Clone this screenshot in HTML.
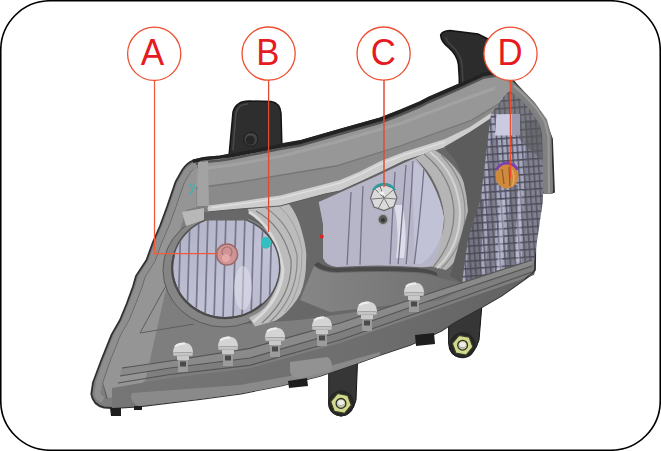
<!DOCTYPE html>
<html><head><meta charset="utf-8">
<style>
html,body{margin:0;padding:0;background:#fff;width:661px;height:451px;overflow:hidden}
svg{display:block}
text{font-family:"Liberation Sans",sans-serif}
</style></head>
<body>
<svg width="661" height="451" viewBox="0 0 661 451">
<defs>
<clipPath id="clipA"><ellipse cx="226" cy="267" rx="53" ry="50"/></clipPath>
<clipPath id="clipC"><path d="M318.7,202 L340,192.5 L360,183.5 L380,174.5 L404,163 L415,158 Q437,183 444,217 Q442,250 421,264 L334,265 Q323,258 323,240 L323,224 Z"/></clipPath>
<clipPath id="clipT"><path d="M491,114 L505,95 L513,88 L524,96 L534,108 L542,125 L543,200 L534,262 L462,283 L468,240 L480.5,200 Z"/></clipPath>
<pattern id="grid" width="5" height="7.5" patternUnits="userSpaceOnUse" patternTransform="rotate(-4)">
<rect width="5" height="7.5" fill="#a6a6be"/>
<rect x="0" y="0" width="1.5" height="7.5" fill="#58586a"/>
<rect x="0" y="0" width="5" height="1.5" fill="#4a4a5a"/>
</pattern>
<linearGradient id="lensA" x1="0" y1="0" x2="1" y2="1">
<stop offset="0" stop-color="#b0b0c6"/><stop offset="0.6" stop-color="#c2c2d6"/><stop offset="1" stop-color="#b8b8cc"/>
</linearGradient>
<linearGradient id="underC" x1="300" y1="0" x2="470" y2="0" gradientUnits="userSpaceOnUse">
<stop offset="0" stop-color="#868686"/><stop offset="1" stop-color="#6e6e6e"/>
</linearGradient>
<linearGradient id="lowband" x1="110" y1="0" x2="535" y2="0" gradientUnits="userSpaceOnUse">
<stop offset="0" stop-color="#767676"/><stop offset="0.6" stop-color="#6e6e6e"/><stop offset="1" stop-color="#626262"/>
</linearGradient>
</defs>
<rect x="0" y="0" width="661" height="451" fill="#fff"/>
<!-- frame -->
<rect x="0.75" y="0.75" width="659.5" height="449.5" rx="49.5" ry="49.5" fill="none" stroke="#000" stroke-width="1.6"/>

<!-- top brackets -->
<path d="M229,156 L233,112 Q236,101 249,101 L271,101.5 Q280,103 281,113 L282,150 Z" fill="#2e2e2e" stroke="#151515" stroke-width="1.5"/>
<path d="M233,150 L236,113 Q238,104 248,104" fill="none" stroke="#4a4a4a" stroke-width="1.5"/>
<circle cx="250.8" cy="139.3" r="7" fill="#444" stroke="#1a1a1a" stroke-width="1"/>
<circle cx="250.3" cy="140.3" r="4.5" fill="#262626"/>
<path d="M459.3,90 L459.3,78 L458.4,64.3 Q457,55 449,48 Q441,42 440.6,35 Q442,31 450,30.5 L478,34 L490,40 L492,70 Z" fill="#2c2c2c" stroke="#121212" stroke-width="1.5"/>
<path d="M463,86 L462,64 Q460,53 452,46 Q446,41 446,37" fill="none" stroke="#454545" stroke-width="1.5"/>
<!-- bottom brackets -->
<path d="M448.6,318 L482,304 L479,340 Q474,357 462,357.5 Q449,357 448.6,343 Z" fill="#363636" stroke="#151515" stroke-width="1"/>
<path d="M328.7,372 L357.5,362 L356,400 Q352,416 341,416 Q329.5,415 328.7,402 Z" fill="#363636" stroke="#151515" stroke-width="1"/>

<!-- body silhouette -->
<path id="silp" d="M104,407.5 Q93,405 91.3,394 L93,382.5 L101,361 L111.6,334.6 L120,320 L126.6,304 L133,286.5 L136,276 L146.5,260 L153,242 L160,226 L167,207 L175.5,182 L182.6,169.5 Q187,163 193,160.6 L204,158 L220,156.3 L230,154.5 L280,144.5 L300,141 L340,129.6 L380,118.3 L401,110 L420,102 L429,97.4 L458.5,84.6 L484,72.8 Q505,68 516,84 L533,102 L546,123 L552,139 L554,192 L536,193 L535,270 L532,274 L501,296 L482,307 L453,323 L441,331 L410,345 L380,355 L358,363 L320,376 L282,385.4 L241,393.5 L200,399 L138,406.5 L112,408 Z" fill="#7e7e7e" stroke="#303030" stroke-width="1.8" stroke-linejoin="round"/>
<!-- top edge thick dark -->
<path d="M193,161.5 L204,159 L220,157.5 L230,156 L280,146 L300,142.5 L340,131 L380,119.8 L401,111.5 L420,103.5 L429,99 L458.5,86.2 L484,74.4 L500,72" fill="none" stroke="#222" stroke-width="4"/>
<!-- left rim light strip -->
<path d="M103,400 Q97,397 97.5,393 L99,382.5 L106.5,361 L117,335 L125.5,320 L132,304 L138.5,287 L141.5,277 L151.5,261 L158,243 L165,227 L172,208 L180.5,183 L187,172 Q191,167 197,165" fill="none" stroke="#8f8f8f" stroke-width="6" stroke-linejoin="round"/>
<path d="M107,399 L103,383 L110.5,361 L121,335 L129.5,320 L136,304 L142.5,287 L145.5,277 L155.5,261 L162,243 L169,227 L176,208 L184.5,183 L191,172 Q195,168 200,166" fill="none" stroke="#626262" stroke-width="1.2" stroke-linejoin="round"/>

<!-- left broad band -->
<path d="M197,166 L197,207 L186,210 L177,240 L168,280 L145.5,380 L128,395 L108,398 L103,383 L110.5,361 L121,335 L129.5,320 L136,304 L142.5,287 L145.5,277 L155.5,261 L162,243 L169,227 L176,208 L184.5,183 L191,172 Z" fill="#959595"/>
<path d="M168,282 L140,333 L194,324" fill="none" stroke="#5e5e5e" stroke-width="1"/>
<!-- upper bezel -->
<path d="M200,161 L231,157.5 L281,148 L301,145 L341,133.5 L381,122 L402,114 L421,106 L430,101.5 L459,89 L485,77 Q500,74 511,84 L515,92 L491,113 L470,127 L445,139 L404,152 L380,161.3 L360,171.5 L340,180 L325,184 L280,195.4 L240,201.5 L207,206 L196,206 L195,180 Q197,168 200,161 Z" fill="#979797"/>
<path d="M196,188 L240,182 L300,172 L336,166 L400,146 L472,120 L505,100 L491,113 L470,127 L445,139 L404,152 L380,161.3 L360,171.5 L340,180 L325,184 L280,195.4 L240,201.5 L207,206 L196,206 Z" fill="#8a8a8a"/>
<path d="M196,188 L240,182 L300,172 L336,166 L400,146 L472,120 L505,100" fill="none" stroke="#767676" stroke-width="1.3"/>
<path d="M196,164 L204,162 L220,160.5 L230,159 L280,149 L300,145.5 L340,134 L380,122.8 L401,114.5 L420,106.5 L429,102 L458.5,89.2 L484,77.4 L500,75" fill="none" stroke="#4e4e4e" stroke-width="2.5" opacity="0.9"/>
<path d="M200,169 L232,165 L282,156 L340,141 L402,123 L462,100 L495,88" fill="none" stroke="#a2a2a2" stroke-width="3"/>
<!-- vertical light band at left -->
<path d="M198,162 L208,161 L209,206 L197,206 Z" fill="#a3a3a3"/>

<path d="M190,184 L193,190 L190,194 M193,183 L195,188" fill="none" stroke="#40b0b0" stroke-width="1.3"/>
<!-- region right of A / left of C (dark) -->
<path d="M207,212 L268,204 L318,193 L359,179 L404,161 L447,148 L470,140 L484,130 L483,180 L470,285 L440,300 L300,320 L230,325 Z" fill="#686868"/>

<!-- projector A outer housing ring -->
<ellipse cx="224" cy="270" rx="61" ry="57" fill="#858585"/>
<ellipse cx="224" cy="270" rx="61" ry="57" fill="none" stroke="#5a5a5a" stroke-width="1"/>
<!-- A chrome crescent -->
<path d="M248,209 L270,206.5 L289,204 Q297,214 301,228.5 Q306,245 306.3,255 L305.8,269.8 Q304,290 296.8,299.7 Q287,314 275.9,320.6 L255,326.6 L249,317.6 Q266,310 270,299.7 Q279,285 278.9,269.8 Q277,245 270,231 Q262,220 249,213 Z" fill="#bcbcbc"/>
<path d="M256,211 Q283,226 291,260 Q293,295 262,323" fill="none" stroke="#7c7c7c" stroke-width="1.2"/>
<path d="M266,208 Q290,224 297,255 Q299,295 270,322" fill="none" stroke="#8a8a8a" stroke-width="1.2"/>
<path d="M279,206 Q297,222 302,250 Q303,290 285,312" fill="none" stroke="#a0a0a0" stroke-width="1"/>
<path d="M249,212 Q276,228 283,270 Q281,300 253,322" fill="none" stroke="#d8d8d8" stroke-width="3"/>
<!-- light piece above A -->
<path d="M182,212 L204,208 L204,220 L186,226 Z" fill="#b8b8b8"/>
<!-- A lens -->
<ellipse cx="226" cy="267" rx="54.5" ry="51.5" fill="#505050"/>
<ellipse cx="226" cy="267" rx="53" ry="50" fill="url(#lensA)"/>
<g clip-path="url(#clipA)" stroke="#77778c" stroke-width="1.7" fill="none">
<path d="M181,215 L178,320"/><path d="M190,215 L187,320"/><path d="M199,215 L196,320"/>
<path d="M208,215 L205,320"/><path d="M217,215 L214,320"/><path d="M226,215 L223,320"/>
<path d="M236,215 L233,320"/><path d="M245,215 L242,320"/><path d="M254,215 L251,320"/>
<path d="M263,215 L260,320"/><path d="M272,215 L269,320"/>
</g>
<ellipse cx="243" cy="288" rx="9" ry="22" fill="#e4e4f0" opacity="0.5"/>
<path d="M174,255 A53,50 0 0 0 262,304" fill="none" stroke="#4a4a4a" stroke-width="2.2"/>
<!-- dark band on top of A lens -->
<path d="M204,212 L248,211 L248,220.5 L204,220.5 Z" fill="#686868"/>

<!-- chrome strip -->
<path d="M209,205.4 L240,201.5 L280,195.4 L325,184 L340,180 L360,171.5 L380,161.3 L404,152 L445,139 L470,127 L491,113 L494,118 L470,132 L447,147 L404,161 L380,172.7 L360,182 L340,191 L325,194 L280,206 L240,209 L209,211.8 Q206,208.6 209,205.4 Z" fill="#cdcdcd"/>
<path d="M212,207.5 L240,204 L280,198.2 L325,187 L340,183 L360,174.5 L380,164.3 L404,155 L445,142" fill="none" stroke="#dedede" stroke-width="1.5"/>
<path d="M209,211.8 L240,209 L280,206 L325,194 L340,191 L360,182 L380,172.7 L404,161 L447,147" fill="none" stroke="#5a5a5a" stroke-width="1"/>

<!-- C chrome ring -->
<path d="M415,158 L433.5,149.3 C455,162 471,185 471,211 C471,235 462,258 446,270 L421,264 C440,248 446,230 444,214 C442,195 432,172 415,158 Z" fill="#b5b5b5"/>
<path d="M424,154 C444,170 453,190 454,212 C454,235 446,252 433,267" fill="none" stroke="#808080" stroke-width="1.2"/>
<path d="M441,155 C458,172 465,192 465,212 C465,236 456,254 441,269" fill="none" stroke="#8a8a8a" stroke-width="1.1"/>
<path d="M430,152 C450,168 459,190 460,212 C460,238 451,255 437,268" fill="none" stroke="#d2d2d2" stroke-width="2.2"/>
<!-- C lens -->
<path d="M318.7,202 L340,192.5 L360,183.5 L380,174.5 L404,163 L415,158 Q437,183 444,217 Q442,250 433,266 Q425,268 417,267 Q380,264 337,267 Q326,266 323,258 L323,224 Z" fill="#b6b6c8"/>
<g clip-path="url(#clipC)">
<path d="M412,160 L440,180 L446,240 L432,266 L415,266 Z" fill="#c8c8dc" opacity="0.7"/>
<path d="M394,205 Q400,230 396,258 L404,258 Q408,230 402,205 Z" fill="#eeeef6" opacity="0.7"/>
<g stroke="#72728a" stroke-width="1.3" fill="none">
<path d="M351,192 Q349,230 347,266"/><path d="M363,186 Q361,230 360,266"/>
<path d="M395,172 Q392,220 390,266"/><path d="M406,165 Q402,220 398,266"/>
<path d="M413,161 Q410,220 406,266"/><path d="M424,168 Q420,220 414,266"/>
</g></g>
<path d="M318,262 Q326,268 337,268 Q380,266 417,268 Q428,269 436,272 L438,276 Q425,272 415,272 Q380,270 337,272 Q322,272 314,265 Z" fill="#4a4a4a"/>
<path d="M314,266 Q322,273 337,273 Q380,271 415,273 Q428,274 440,278 L470,285 L440,300 L330,312 L300,300 Z" fill="url(#underC)"/>

<!-- dark triangle between C ring and turn signal -->
<path d="M444,147 L470,132 L494,116 L499,114 L480.5,200 L468,240 L462,283 L450,276 L468,211 Q466,180 455,160 Z" fill="#5c5c5c"/>
<!-- turn signal -->
<path d="M491,114 L505,95 L513,88 L524,96 L534,108 L542,125 L543,200 L534,262 L462,283 L468,240 L480.5,200 Z" fill="url(#grid)"/>
<g clip-path="url(#clipT)">
<path d="M491,114 L505,95 L513,88 L524,96 L534,108 L542,125 L543,160 L530,150 L520,140 L512,114 Z" fill="#5e5e5e" opacity="0.6"/>
<path d="M496.4,114.6 L512,114 L512,135.6 L495,135.6 Z" fill="#cacae0"/>
<path d="M512,114 L520,114 L520,135 L512,135.6 Z" fill="#9a9ab0"/>
<path d="M470,200 L484,200 L480,285 L466,285 Z" fill="#4a4a50" opacity="0.55"/>
<path d="M490,140 L498,140 L494,280 L486,280 Z" fill="#505058" opacity="0.45"/>
<path d="M510,185 L518,185 L514,272 L506,272 Z" fill="#505058" opacity="0.5"/>
<path d="M526,120 L545,120 L545,262 L522,262 Z" fill="#55555c" opacity="0.45"/>
<path d="M500,200 L505,200 L502,270 L497,270 Z" fill="#e0e0f0" opacity="0.35"/>
<path d="M518,190 L522,190 L520,262 L516,262 Z" fill="#e0e0f0" opacity="0.3"/>
</g>
<!-- right rim -->
<path d="M512,81.2 L524.3,92 L535.2,103 L547,119.4 L551.4,136 L552.8,194 L543.5,194 L543,138 L540,125 L531,111 L521,100 L510,91 Z" fill="#808080"/>
<path d="M514,86 L525,96 L536,108 L545,122 L548.5,137 L549,193" fill="none" stroke="#999" stroke-width="2"/>

<!-- lower bands -->
<path d="M112,388 L170,378 L250,368 L340,343 L440,308 L534,275 L535,272 L532,274 L501,296 L482,307 L453,323 L441,331 L410,345 L380,355 L358,363 L320,376 L282,385.4 L241,393.5 L200,399 L138,406.5 L112,408 Z" fill="url(#lowband)"/>
<path d="M132,393 L240,385 L290,376 L330,366 L380,352 L380,355 L358,363 L320,376 L282,385.4 L241,393.5 L200,399 L138,406 Q128,400 132,393 Z" fill="#8a8a8a"/>
<path d="M122,368 L170,361 L250,348.3 L340,323 L440,290 L532,260 L532,266 L440,297 L340,332 L250,358 L170,368 L120,376 Z" fill="#8a8a8a"/>
<g fill="none" stroke="#545454" stroke-width="1.2">
<path d="M122,368 L170,361 L250,348.3 L340,323 L440,290 L532,260"/>
<path d="M120,376 L170,368 L250,358 L340,332 L440,297 L532,266"/>
<path d="M118,383 L170,374.5 L250,365.3 L340,340 L440,305 L532,272"/>
</g>
<path d="M290,362 L327,357 Q334,360 331,371 L300,378 Q289,377 290,370 Z" fill="#929292"/>
<path d="M415,335 L434,333 L435,344 L416,346 Z" fill="#1e1e1e"/>
<path d="M288,381 L307,378 L308,386 L289,388 Z" fill="#1e1e1e"/>
<path d="M110,408 L121,408 L121,416 L111,416 Z" fill="#1e1e1e"/>
<path d="M134,406 L142,406 L142,410 L134,410 Z" fill="#1e1e1e"/>

<!-- LEDs -->
<g id="leds">
<g transform="translate(183,354.5)"><path d="M-10,-1 Q-10,-12 0,-12 Q10,-12 10,-1 Z" fill="#d4d4d4"/><path d="M-8,-8 Q-4,-11 2,-11" stroke="#eee" stroke-width="2" fill="none"/><rect x="-10" y="-2" width="20" height="3.5" rx="1.5" fill="#c4c4c4" stroke="#8a8a8a" stroke-width="0.6"/><rect x="-6" y="1.5" width="12" height="4" fill="#c8c8c8"/><rect x="-5" y="5.5" width="10" height="12" fill="#9c9c9c"/><rect x="-3" y="7" width="6" height="5" fill="#4a4a4a"/></g>
<g transform="translate(228,348.5)"><path d="M-10,-1 Q-10,-12 0,-12 Q10,-12 10,-1 Z" fill="#d4d4d4"/><path d="M-8,-8 Q-4,-11 2,-11" stroke="#eee" stroke-width="2" fill="none"/><rect x="-10" y="-2" width="20" height="3.5" rx="1.5" fill="#c4c4c4" stroke="#8a8a8a" stroke-width="0.6"/><rect x="-6" y="1.5" width="12" height="4" fill="#c8c8c8"/><rect x="-5" y="5.5" width="10" height="12" fill="#9c9c9c"/><rect x="-3" y="7" width="6" height="5" fill="#4a4a4a"/></g>
<g transform="translate(275,339.5)"><path d="M-10,-1 Q-10,-12 0,-12 Q10,-12 10,-1 Z" fill="#d4d4d4"/><path d="M-8,-8 Q-4,-11 2,-11" stroke="#eee" stroke-width="2" fill="none"/><rect x="-10" y="-2" width="20" height="3.5" rx="1.5" fill="#c4c4c4" stroke="#8a8a8a" stroke-width="0.6"/><rect x="-6" y="1.5" width="12" height="4" fill="#c8c8c8"/><rect x="-5" y="5.5" width="10" height="12" fill="#9c9c9c"/><rect x="-3" y="7" width="6" height="5" fill="#4a4a4a"/></g>
<g transform="translate(322,328.5)"><path d="M-10,-1 Q-10,-12 0,-12 Q10,-12 10,-1 Z" fill="#d4d4d4"/><path d="M-8,-8 Q-4,-11 2,-11" stroke="#eee" stroke-width="2" fill="none"/><rect x="-10" y="-2" width="20" height="3.5" rx="1.5" fill="#c4c4c4" stroke="#8a8a8a" stroke-width="0.6"/><rect x="-6" y="1.5" width="12" height="4" fill="#c8c8c8"/><rect x="-5" y="5.5" width="10" height="12" fill="#9c9c9c"/><rect x="-3" y="7" width="6" height="5" fill="#4a4a4a"/></g>
<g transform="translate(367,313.5)"><path d="M-10,-1 Q-10,-12 0,-12 Q10,-12 10,-1 Z" fill="#d4d4d4"/><path d="M-8,-8 Q-4,-11 2,-11" stroke="#eee" stroke-width="2" fill="none"/><rect x="-10" y="-2" width="20" height="3.5" rx="1.5" fill="#c4c4c4" stroke="#8a8a8a" stroke-width="0.6"/><rect x="-6" y="1.5" width="12" height="4" fill="#c8c8c8"/><rect x="-5" y="5.5" width="10" height="12" fill="#9c9c9c"/><rect x="-3" y="7" width="6" height="5" fill="#4a4a4a"/></g>
<g transform="translate(414,294.5)"><path d="M-10,-1 Q-10,-12 0,-12 Q10,-12 10,-1 Z" fill="#d4d4d4"/><path d="M-8,-8 Q-4,-11 2,-11" stroke="#eee" stroke-width="2" fill="none"/><rect x="-10" y="-2" width="20" height="3.5" rx="1.5" fill="#c4c4c4" stroke="#8a8a8a" stroke-width="0.6"/><rect x="-6" y="1.5" width="12" height="4" fill="#c8c8c8"/><rect x="-5" y="5.5" width="10" height="12" fill="#9c9c9c"/><rect x="-3" y="7" width="6" height="5" fill="#4a4a4a"/></g>
</g>

<!-- nuts -->
<circle cx="462.6" cy="345.2" r="13.0" fill="#262626"/><polygon points="472.9,347.0 466.2,355.1 455.9,353.2 452.3,343.4 459.0,335.3 469.3,337.2" fill="#d2d88c" stroke="#3a3a2a" stroke-width="1.2"/><circle cx="462.6" cy="345.2" r="4.9" fill="#c4c882" stroke="#2e2e2e" stroke-width="1.3"/><circle cx="462.6" cy="345.2" r="3.3" fill="#ececec"/><path d="M459.6,346.2 A3.6,3.6 0 0 0 465.6,346.2" fill="none" stroke="#999" stroke-width="1"/>
<circle cx="341" cy="403.4" r="13.0" fill="#262626"/><polygon points="351.3,405.2 344.6,413.3 334.3,411.4 330.7,401.6 337.4,393.5 347.7,395.4" fill="#d2d88c" stroke="#3a3a2a" stroke-width="1.2"/><circle cx="341" cy="403.4" r="4.9" fill="#c4c882" stroke="#2e2e2e" stroke-width="1.3"/><circle cx="341" cy="403.4" r="3.3" fill="#ececec"/><path d="M338,404.4 A3.6,3.6 0 0 0 344,404.4" fill="none" stroke="#999" stroke-width="1"/>

<!-- bulbs -->
<circle cx="227" cy="254.5" r="10.5" fill="#d09494" stroke="#9a6a6a" stroke-width="1.5"/>
<circle cx="227" cy="252" r="5" fill="none" stroke="#a87070" stroke-width="1.2"/>
<circle cx="226" cy="258" r="4" fill="#e4a8a8"/>
<ellipse cx="266" cy="242.7" rx="5" ry="6" fill="#30c0c0"/>
<polygon points="383.8,184.5 393,188 397,197.5 394,206.5 384,210.5 374,207 370.5,198 374,188.5" fill="#dadada" stroke="#6a6a6a" stroke-width="1.2"/>
<path d="M373,190 A13,13 0 0 1 395,190" fill="none" stroke="#2a9e9e" stroke-width="2.2"/>
<g stroke="#6e6e6e" stroke-width="0.9" fill="none"><path d="M384,198 L380,186 M384,198 L393,190 M384,198 L396,199 M384,198 L390,209 M384,198 L378,209 M384,198 L372,199 M384,198 L375,189"/></g>
<path d="M378,193 L383,191 L385,196 Z" fill="#f4f4f4"/>
<circle cx="383" cy="219.5" r="5" fill="#5a5a5a" stroke="#aaa" stroke-width="1.2"/>
<circle cx="383" cy="220" r="2" fill="#333"/>
<ellipse cx="507" cy="176" rx="11.5" ry="12.5" fill="#d08a3c"/><path d="M502,169 L504,184 M509,167 L510,186" stroke="#8a5a2a" stroke-width="1.2"/><path d="M512,170 Q516,178 512,186" stroke="#e8a860" stroke-width="1.5" fill="none"/>
<path d="M496.5,170 A11.5,11.5 0 0 1 517.5,170" fill="none" stroke="#7a40b0" stroke-width="2.8"/>
<circle cx="321.7" cy="236.5" r="2" fill="#e02020"/>

<!-- callouts -->
<g stroke="#ee4f30" stroke-width="1.3" fill="none">
<circle cx="154.2" cy="53.8" r="26.6" fill="#fff"/>
<circle cx="268.6" cy="53.6" r="26.6" fill="#fff"/>
<circle cx="383.6" cy="53.6" r="26.6" fill="#fff"/>
<circle cx="510.5" cy="53.8" r="26.6" fill="#fff"/>
<path d="M154.5,80.5 L154.5,253.5 L218,253.5" stroke="#f05a38" stroke-width="1.25"/>
<path d="M268.6,80.3 L268.6,232" stroke="#e04a30" stroke-width="1.3"/>
<path d="M384,80.3 L384,187" stroke="#e04a30" stroke-width="1.5"/>
<path d="M510.5,80.5 L510.5,178" stroke="#f04a2c" stroke-width="1.4"/>
</g>
<g fill="#e61a22" font-size="36.2" text-anchor="middle">
<text transform="translate(152.5,65) scale(0.97,1)">A</text>
<text transform="translate(267.8,65) scale(0.96,1)">B</text>
<text transform="translate(383.3,65) scale(0.96,1)">C</text>
<text transform="translate(510,65) scale(0.96,1)">D</text>
</g>
</svg>
</body></html>
